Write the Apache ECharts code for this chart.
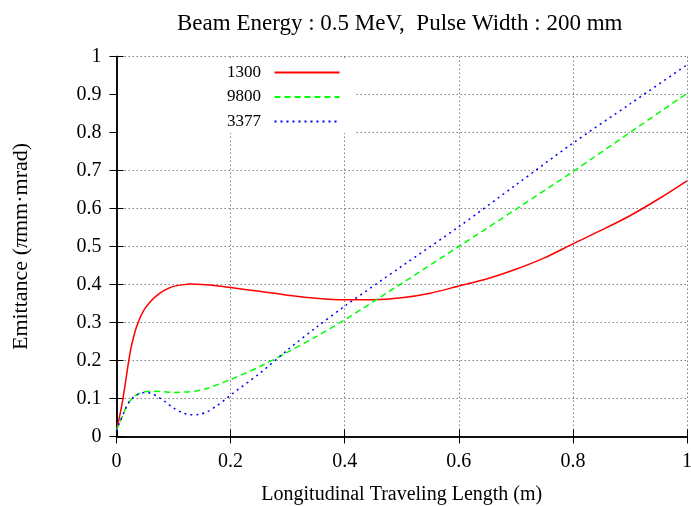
<!DOCTYPE html>
<html>
<head>
<meta charset="utf-8">
<script src="https://cdn.jsdelivr.net/npm/echarts@6/dist/echarts.min.js"></script>
<style>html,body{margin:0;padding:0;background:#fff}#c{width:691px;height:506px}</style>
</head>
<body>
<div id="c"></div>
<script>
var xTicks = [0, 0.2, 0.4, 0.6, 0.8, 1];
var yTicks = [0, 0.1, 0.2, 0.3, 0.4, 0.5, 0.6, 0.7, 0.8, 0.9, 1];
var seriesNames = ['1300', '9800', '3377'];

var x1300 = [0, 0.005, 0.01, 0.015, 0.02, 0.025, 0.03, 0.035, 0.04, 0.045, 0.05, 0.06, 0.07, 0.08, 0.09, 0.1, 0.115, 0.13, 0.15, 0.175, 0.2, 0.25, 0.3, 0.35, 0.4, 0.45, 0.5, 0.55, 0.6, 0.65, 0.7, 0.75, 0.8, 0.85, 0.9, 0.95, 1.0];
var y1300 = [0.015, 0.05, 0.088, 0.135, 0.185, 0.23, 0.262, 0.288, 0.308, 0.324, 0.337, 0.356, 0.37, 0.381, 0.389, 0.395, 0.399, 0.401, 0.4, 0.397, 0.392, 0.382, 0.372, 0.364, 0.36, 0.36, 0.365, 0.377, 0.396, 0.415, 0.44, 0.47, 0.507, 0.543, 0.581, 0.625, 0.673];

var x9800 = [0, 0.005, 0.01, 0.015, 0.02, 0.03, 0.04, 0.05, 0.06, 0.08, 0.1, 0.12, 0.14, 0.16, 0.18, 0.2, 0.25, 0.3, 0.35, 0.4, 0.5, 0.6, 0.7, 0.8, 0.9, 1.0];
var y9800 = [0.015, 0.035, 0.052, 0.07, 0.086, 0.104, 0.113, 0.118, 0.119, 0.118, 0.116, 0.117, 0.12, 0.127, 0.138, 0.15, 0.183, 0.222, 0.263, 0.307, 0.403, 0.5, 0.598, 0.697, 0.8, 0.903];

var x3377 = [0, 0.005, 0.01, 0.015, 0.02, 0.03, 0.04, 0.05, 0.06, 0.07, 0.085, 0.1, 0.115, 0.13, 0.145, 0.16, 0.175, 0.19, 0.2, 0.25, 0.3, 0.35, 0.4, 0.5, 0.6, 0.7, 0.8, 0.9, 1.0];
var y3377 = [0.015, 0.035, 0.052, 0.07, 0.086, 0.104, 0.113, 0.116, 0.114, 0.107, 0.092, 0.075, 0.063, 0.057, 0.058, 0.066, 0.08, 0.097, 0.109, 0.165, 0.228, 0.287, 0.343, 0.448, 0.552, 0.662, 0.772, 0.875, 0.978];

function pairs(xs, ys) { return xs.map(function (x, i) { return [x, ys[i]]; }); }

var FONT = 'Liberation Serif';
var chart = echarts.init(document.getElementById('c'), null, {renderer: 'canvas'});

var baseX = {
  type: 'value', min: xTicks[0], max: xTicks[xTicks.length - 1], interval: 0.2,
  axisLine: {show: true, lineStyle: {color: '#000', width: 1.5}},
  axisTick: {show: true, inside: true, length: 7, lineStyle: {color: '#000', width: 1}}
};
var baseY = {
  type: 'value', min: yTicks[0], max: yTicks[yTicks.length - 1], interval: 0.1,
  axisLine: {show: true, lineStyle: {color: '#000', width: 1.5}},
  axisTick: {show: true, inside: true, length: 7, lineStyle: {color: '#000', width: 1}}
};

var option = {
  animation: false,
  backgroundColor: '#fff',
  title: {
    text: 'Beam Energy : 0.5 MeV,  Pulse Width : 200 mm',
    left: 177, top: 12, padding: 0, textAlign: 'left',
    textStyle: {fontFamily: FONT, fontSize: 23, fontWeight: 'normal', color: '#000'}
  },
  legend: {
    data: seriesNames,
    orient: 'vertical', align: 'right',
    left: 118, top: 58,
    padding: [6, 14, 3, 109],
    backgroundColor: '#fff',
    itemWidth: 65, itemHeight: 14, itemGap: 7.5,
    itemStyle: {color: 'rgba(0,0,0,0)', borderWidth: 0, opacity: 0},
    formatter: function (n) { return n + '  '; },
    textStyle: {fontFamily: FONT, fontSize: 17, color: '#000'}
  },
  grid: {left: 116.5, right: 4, top: 56.5, bottom: 69.5, containLabel: false, outerBoundsMode: 'none'},
  xAxis: [
    Object.assign({}, baseX, {
      position: 'bottom',
      name: 'Longitudinal Traveling Length (m)', nameLocation: 'middle', nameGap: 48,
      nameTextStyle: {fontFamily: FONT, fontSize: 20, color: '#000'},
      axisLabel: {show: true, margin: 15, fontFamily: FONT, fontSize: 20, color: '#000'},
      splitLine: {show: true, lineStyle: {color: '#808080', width: 1, type: [1.5, 2.5]}}
    }),
    Object.assign({}, baseX, {
      position: 'top', axisLabel: {show: false}, splitLine: {show: false}
    })
  ],
  yAxis: [
    Object.assign({}, baseY, {
      position: 'left',
      name: '{a|Emittance (}{b|π}{a|mm·mrad)}', nameLocation: 'middle', nameGap: 84, nameRotate: 90,
      nameTextStyle: {
        fontFamily: FONT, fontSize: 22, color: '#000',
        rich: {
          a: {fontFamily: FONT, fontSize: 22, color: '#000'},
          b: {fontFamily: FONT, fontSize: 22, color: '#000', fontStyle: 'italic'}
        }
      },
      axisLabel: {show: true, margin: 15, fontFamily: FONT, fontSize: 20, color: '#000'},
      splitLine: {show: true, lineStyle: {color: '#808080', width: 1, type: [1.5, 2.5]}}
    }),
    Object.assign({}, baseY, {
      position: 'right', axisLabel: {show: false}, splitLine: {show: false}
    })
  ],
  series: [
    {
      name: seriesNames[0], type: 'line', xAxisIndex: 0, yAxisIndex: 0,
      data: pairs(x1300, y1300), smooth: 0.3, symbol: 'none',
      lineStyle: {color: '#ff0000', width: 1.5, type: 'solid'}, itemStyle: {color: '#ff0000'}
    },
    {
      name: seriesNames[1], type: 'line', xAxisIndex: 0, yAxisIndex: 0,
      data: pairs(x9800, y9800), smooth: 0.3, symbol: 'none',
      lineStyle: {color: '#00ff00', width: 1.5, type: [6, 4]}, itemStyle: {color: '#00ff00'}
    },
    {
      name: seriesNames[2], type: 'line', xAxisIndex: 0, yAxisIndex: 0,
      data: pairs(x3377, y3377), smooth: 0.3, symbol: 'none',
      lineStyle: {color: '#0000ff', width: 1.5, type: [2, 4]}, itemStyle: {color: '#0000ff'}
    }
  ]
};
chart.setOption(option);
</script>
</body>
</html>
